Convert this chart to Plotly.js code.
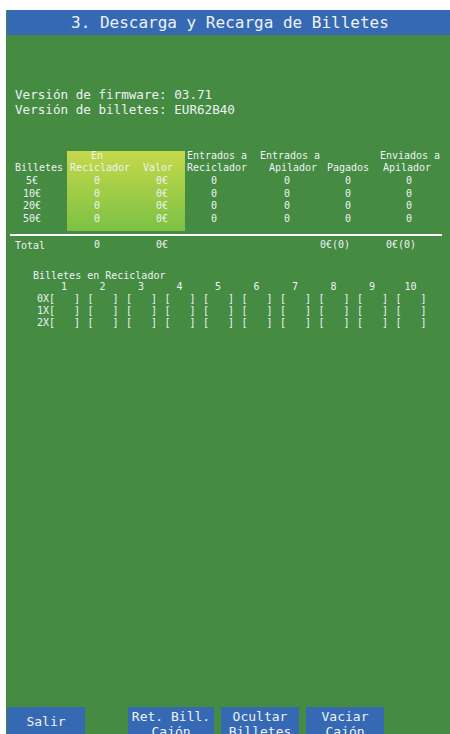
<!DOCTYPE html>
<html>
<head>
<meta charset="utf-8">
<script src="https://cdn.plot.ly/plotly-3.0.1.min.js"></script>
<style>html,body{margin:0;padding:0;background:#fff;}#chart{width:450px;height:734px;}</style>
</head>
<body>
<div id="chart"></div>
<script>
// ---- data ----
const tituloPantalla = '3. Descarga y Recarga de Billetes';
const versionFirmware = '03.71';
const versionBilletes = 'EUR62B40';
const denominaciones = ['5€', '10€', '20€', '50€'];
const enReciclador = [0, 0, 0, 0];
const valorEuros = [0, 0, 0, 0];
const entradosReciclador = [0, 0, 0, 0];
const entradosApilador = [0, 0, 0, 0];
const pagados = [0, 0, 0, 0];
const pagadosCantidad = [0, 0, 0, 0];
const enviadosApilador = [0, 0, 0, 0];
const enviadosCantidad = [0, 0, 0, 0];
const posicionesReciclador = ['1','2','3','4','5','6','7','8','9','10'];
const filasReciclador = ['0X', '1X', '2X'];
const contenidoReciclador = [
  ['','','','','','','','','',''],
  ['','','','','','','','','',''],
  ['','','','','','','','','','']
];
const botones = [['Salir'], ['Ret. Bill.', 'Cajón'], ['Ocultar', 'Billetes'], ['Vaciar', 'Cajón']];

// ---- style / layout constants ----
const FONT = '"DejaVu Sans Mono", monospace';
const GREEN = '#458b42';
const BLUE = '#3669b3';
const TXT = '#eef2f6';
const sum = a => a.reduce((s, v) => s + v, 0);

const rowY = [181.5, 194, 206.5, 219];
const colX = {bill: 32, enRec: 97, valor: 162, entRec: 214, entApi: 287, pag: 348, envApi: 409};
const traces = [];

function txt(x, y, text, size, color, pos) {
  traces.push({type: 'scatter', mode: 'text', x: x, y: y, text: text,
    textposition: pos || 'middle center', cliponaxis: false, hoverinfo: 'skip',
    textfont: {family: FONT, size: size, color: color || TXT}, showlegend: false});
}

// gradient box behind "En Reciclador" / "Valor"
traces.push({type: 'scatter', mode: 'lines', x: [67, 185, 185, 67, 67], y: [151, 151, 231, 231, 151],
  fill: 'toself', line: {width: 0}, hoverinfo: 'skip', showlegend: false,
  fillgradient: {type: 'vertical', start: 151, stop: 231, colorscale: [[0, '#c6d94a'], [1, '#7cc145']]}});

// table headers
txt([39, 97, 217, 290, 410], [156, 156, 156, 156, 156], ['', 'En', 'Entrados a', 'Entrados a', 'Enviados a'], 10);
txt([39, 100, 158, 217, 293, 348, 407], [168.5, 168.5, 168.5, 168.5, 168.5, 168.5, 168.5],
  ['Billetes', 'Reciclador', 'Valor', 'Reciclador', 'Apilador', 'Pagados', 'Apilador'], 10);

// table rows
const col = v => rowY.map(() => v);
txt(col(colX.bill), rowY, denominaciones, 10);
txt(col(colX.enRec), rowY, enReciclador.map(String), 10);
txt(col(colX.valor), rowY, valorEuros.map(v => v + '€'), 10);
txt(col(colX.entRec), rowY, entradosReciclador.map(String), 10);
txt(col(colX.entApi), rowY, entradosApilador.map(String), 10);
txt(col(colX.pag), rowY, pagados.map(String), 10);
txt(col(colX.envApi), rowY, enviadosApilador.map(String), 10);

// totals
txt([97, 162, 335, 401], [245.5, 245.5, 245.5, 245.5],
  [String(sum(enReciclador)), sum(valorEuros) + '€', sum(pagados) + '€(' + sum(pagadosCantidad) + ')',
   sum(enviadosApilador) + '€(' + sum(enviadosCantidad) + ')'], 10);

// recycler grid
const cellLeft = posicionesReciclador.map((p, i) => 51 + 38.5 * i);
txt(cellLeft.map(x => x + 13), posicionesReciclador.map(() => 287), posicionesReciclador, 10);
const gridY = [299.5, 311.5, 323.5];
filasReciclador.forEach((f, r) => {
  txt([43], [gridY[r]], [f], 10);
  txt(cellLeft.map(x => x + 1), cellLeft.map(() => gridY[r]), cellLeft.map(() => '['), 10);
  txt(cellLeft.map(x => x + 26), cellLeft.map(() => gridY[r]), cellLeft.map(() => ']'), 10);
  txt(cellLeft.map(x => x + 13.5), cellLeft.map(() => gridY[r]), contenidoReciclador[r], 10);
});

// buttons text
const btnBoxes = [[7, 85], [128, 214], [221, 299], [306, 384]];
botones.forEach((b, i) => {
  const cx = (btnBoxes[i][0] + btnBoxes[i][1]) / 2;
  if (b.length === 1) txt([cx], [723], b, 13);
  else txt([cx, cx], [718, 733], b, 13);
});

const shapes = [
  {type: 'rect', xref: 'x', yref: 'y', x0: 6, x1: 450, y0: 10, y1: 734, fillcolor: GREEN, line: {width: 0}, layer: 'below'},
  {type: 'rect', xref: 'x', yref: 'y', x0: 7, x1: 450, y0: 10, y1: 35, fillcolor: BLUE, line: {width: 0}, layer: 'below'},
  {type: 'line', xref: 'x', yref: 'y', x0: 10, x1: 442, y0: 235, y1: 235, line: {color: '#ffffff', width: 2}}
];
btnBoxes.forEach(b => shapes.push({type: 'rect', xref: 'x', yref: 'y', x0: b[0], x1: b[1], y0: 707, y1: 734,
  fillcolor: BLUE, line: {width: 0}, layer: 'below'}));

const ann = (x, y, text, size, anchor) => ({x: x, y: y, xref: 'x', yref: 'y', text: text, showarrow: false,
  xanchor: anchor || 'left', yanchor: 'middle', font: {family: FONT, size: size, color: TXT}});
const annotations = [
  ann(230, 22.5, tituloPantalla, 16, 'center'),
  ann(13, 94, 'Versión de firmware: ' + versionFirmware, 12.6),
  ann(13, 109.5, 'Versión de billetes: ' + versionBilletes, 12.6),
  ann(13, 245.5, 'Total', 10),
  ann(31, 275, 'Billetes en Reciclador', 10)
];

const layout = {
  width: 450, height: 734, margin: {l: 0, r: 0, t: 0, b: 0},
  paper_bgcolor: '#ffffff', plot_bgcolor: 'rgba(0,0,0,0)',
  xaxis: {range: [0, 450], visible: false, fixedrange: true},
  yaxis: {range: [734, 0], visible: false, fixedrange: true},
  shapes: shapes, annotations: annotations, showlegend: false
};
Plotly.newPlot('chart', traces, layout, {displayModeBar: false, staticPlot: true});
</script>
</body>
</html>
